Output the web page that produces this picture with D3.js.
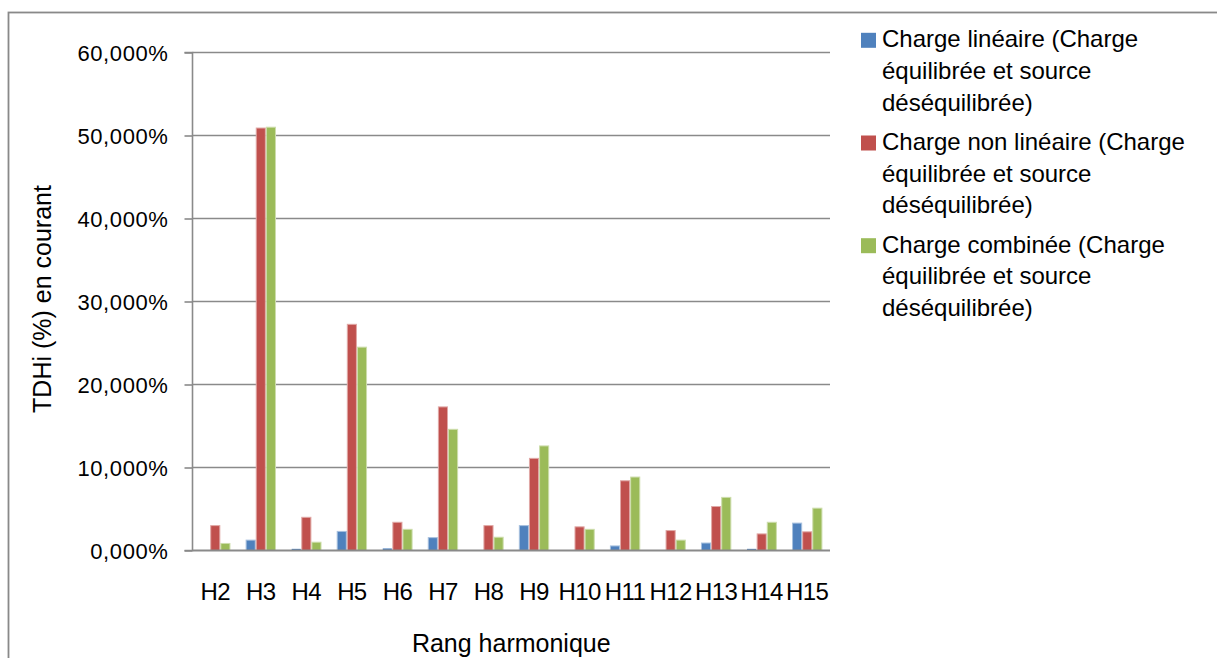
<!DOCTYPE html>
<html>
<head>
<meta charset="utf-8">
<script src="https://cdn.jsdelivr.net/npm/d3@7"></script>
<style>
  html, body { margin: 0; padding: 0; background: #fff; }
  svg { display: block; }
  text { font-family: "Liberation Sans", Arial, sans-serif; fill: #000; }
</style>
</head>
<body>
<svg id="chart" width="1217" height="658"></svg>
<script>
// ---- Data ----
const categories = ["H2","H3","H4","H5","H6","H7","H8","H9","H10","H11","H12","H13","H14","H15"];
const seriesNames = [
  "Charge linéaire (Charge équilibrée et source déséquilibrée)",
  "Charge non linéaire (Charge équilibrée et source déséquilibrée)",
  "Charge combinée (Charge équilibrée et source déséquilibrée)"
];
const legendLines = [
  ["Charge linéaire (Charge", "équilibrée et source", "déséquilibrée)"],
  ["Charge non linéaire (Charge", "équilibrée et source", "déséquilibrée)"],
  ["Charge combinée (Charge", "équilibrée et source", "déséquilibrée)"]
];
const lineaire    = [0.0, 1.25, 0.2, 2.3, 0.25, 1.55, 0.0, 3.0, 0.0, 0.55, 0.0, 0.9, 0.2, 3.3];
const nonLineaire = [3.0, 50.9, 4.0, 27.25, 3.4, 17.3, 3.0, 11.1, 2.85, 8.4, 2.4, 5.3, 2.0, 2.25];
const combinee    = [0.85, 51.0, 1.0, 24.5, 2.55, 14.6, 1.6, 12.6, 2.55, 8.85, 1.25, 6.4, 3.4, 5.1];
const yTicks = [0, 10, 20, 30, 40, 50, 60];
const colors = ["#4F81BD", "#C0504D", "#9BBB59"];
const strokeColors = ["#A7C0DE", "#E0A8A6", "#CDDDAC"];
const seriesValues = [lineaire, nonLineaire, combinee];

// ---- Layout ----
const svg = d3.select("#chart");
const plot = { left: 192.5, right: 830, top: 52.5, bottom: 550.5 };

// outer frame
svg.append("rect")
  .attr("x", 8.5).attr("y", 12.5)
  .attr("width", 1300).attr("height", 800)
  .attr("fill", "none").attr("stroke", "#898989").attr("stroke-width", 1.8);

const x = d3.scaleBand().domain(categories)
  .range([plot.left, plot.right]).paddingInner(1/3).paddingOuter(1/6);
const xSub = d3.scaleBand().domain(d3.range(seriesNames.length))
  .range([0, x.bandwidth()]).padding(0);
const y = d3.scaleLinear().domain([0, 60]).range([plot.bottom, plot.top]);

// gridlines
svg.append("g").selectAll("line").data(yTicks.filter(d => d > 0)).join("line")
  .attr("x1", plot.left).attr("x2", plot.right)
  .attr("y1", d => y(d)).attr("y2", d => y(d))
  .attr("stroke", "#8a8a8a").attr("stroke-width", 1.6);

// bars
const groups = svg.append("g").selectAll("g").data(categories).join("g")
  .attr("transform", c => `translate(${x(c)},0)`);
groups.selectAll("rect")
  .data((c, i) => seriesValues.map((vals, s) => ({ s, v: vals[i] })))
  .join("rect")
  .attr("x", d => xSub(d.s) + 0.5)
  .attr("width", xSub.bandwidth() - 1)
  .attr("y", d => y(d.v))
  .attr("height", d => Math.max(0, y(0) - y(d.v)))
  .attr("fill", d => colors[d.s])
  .attr("stroke", d => strokeColors[d.s])
  .attr("stroke-width", d => d.v > 0.3 ? 1 : 0);

// y axis
const yAxis = d3.axisLeft(y).tickValues(yTicks)
  .tickFormat(d => d3.format(".3f")(d).replace(".", ",") + "%")
  .tickSize(8).tickPadding(16);
const gy = svg.append("g").attr("transform", `translate(${plot.left},0)`).call(yAxis);
gy.select(".domain").attr("stroke", "#8a8a8a").attr("stroke-width", 1.6)
  .attr("d", `M-8,${plot.top}H0V${plot.bottom}H-8`);
gy.selectAll(".tick line").attr("stroke", "#8a8a8a").attr("stroke-width", 1.6);
gy.selectAll(".tick text")
  .style("font-family", "'Liberation Sans', Arial, sans-serif")
  .style("font-size", "22px").style("letter-spacing", "0.6px")
  .attr("fill", "#000").attr("dy", "0.36em");

// x axis
const xAxis = d3.axisBottom(x).tickSize(0).tickPadding(32);
const gx = svg.append("g").attr("transform", `translate(0,${plot.bottom})`).call(xAxis);
gx.select(".domain").attr("stroke", "#8a8a8a").attr("stroke-width", 2.2)
  .attr("d", `M${plot.left},0H${plot.right}`);
gx.selectAll(".tick text")
  .style("font-family", "'Liberation Sans', Arial, sans-serif")
  .style("font-size", "24px").style("letter-spacing", "-0.6px")
  .attr("fill", "#000").attr("dy", "0.71em");

// axis titles
svg.append("text")
  .attr("x", (plot.left + plot.right) / 2).attr("y", 652)
  .attr("text-anchor", "middle")
  .style("font-size", "25px")
  .text("Rang harmonique");
svg.append("text")
  .attr("transform", "translate(51,299) rotate(-90)")
  .attr("text-anchor", "middle")
  .style("font-size", "25px")
  .text("TDHi (%) en courant");

// legend
const legend = svg.append("g").attr("transform", "translate(861,0)");
const lg = legend.selectAll("g").data(legendLines).join("g")
  .attr("transform", (d, i) => `translate(0,${47.3 + i * 102.7})`);
lg.append("rect")
  .attr("x", 0).attr("y", -14.5).attr("width", 15).attr("height", 15)
  .attr("fill", (d, i) => colors[i]);
lg.append("text")
  .style("font-size", "24px")
  .selectAll("tspan").data(d => d).join("tspan")
  .attr("x", 21).attr("y", (d, j) => j * 31.7)
  .text(d => d);
</script>
</body>
</html>
